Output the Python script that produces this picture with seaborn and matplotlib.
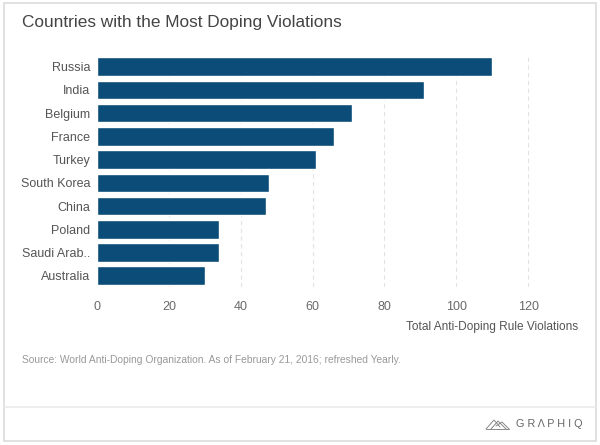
import matplotlib
matplotlib.use('Agg')
import matplotlib.pyplot as plt
import seaborn as sns
import pandas as pd
from matplotlib.patches import Rectangle
from matplotlib.lines import Line2D

countries = ['Russia', 'India', 'Belgium', 'France', 'Turkey', 'South Korea',
             'China', 'Poland', 'Saudi Arab..', 'Australia']
violations = [110, 91, 71, 66, 61, 48, 47, 34, 34, 30]
x_ticks = [0, 20, 40, 60, 80, 100, 120]

BAR = '#0b4d78'
GRID = '#e3e3e3'
TEXT = '#555555'

df = pd.DataFrame({'country': countries, 'violations': violations})

sns.set_style('white')
plt.rcParams['font.family'] = ['Liberation Sans', 'DejaVu Sans']

fig = plt.figure(figsize=(6, 4.45), dpi=100)
fig.patch.set_facecolor('white')

# card frame + footer separator
fig.patches.append(Rectangle((0.006, 0.008), 0.988, 0.986, transform=fig.transFigure,
                             fill=False, edgecolor='#dcdcdc', lw=1.2))
fig.lines.append(Line2D([0.006, 0.994], [1 - 407 / 445] * 2, transform=fig.transFigure,
                        color='#ebebeb', lw=1.2))

ax = fig.add_axes([97 / 600, 1 - 287.3 / 445, 485 / 600, (287.3 - 55.1) / 445])
sns.barplot(data=df, x='violations', y='country', color=BAR, saturation=1,
            width=0.8, ax=ax, zorder=3)

ax.set_xlim(0, 135)
ax.set_xticks(x_ticks)
ax.set_xticklabels([str(t) for t in x_ticks])
for t in x_ticks[1:]:
    ax.axvline(t, color=GRID, lw=0.8, ls=(0, (4, 3)), zorder=1)
sns.despine(ax=ax, left=True, bottom=True)
ax.tick_params(axis='both', length=0, labelsize=9)
ax.tick_params(axis='x', pad=10, labelcolor='#6a6a6a')
ax.tick_params(axis='y', pad=5, labelcolor=TEXT)
ax.set_ylabel('')
ax.set_xlabel('')

fig.text(22 / 600, 1 - 22 / 445, 'Countries with the Most Doping Violations',
         fontsize=12.4, color='#444444', va='center', ha='left')
fig.text(578 / 600, 1 - 327 / 445, 'Total Anti-Doping Rule Violations',
         fontsize=8.6, color=TEXT, va='center', ha='right')
fig.text(22 / 600, 1 - 360 / 445,
         'Source: World Anti-Doping Organization. As of February 21, 2016; refreshed Yearly.',
         fontsize=7.4, color='#999999', va='center', ha='left')

# footer logo
fig.text(582 / 600, 1 - 424 / 445, 'G R Λ P H I Q', fontsize=7.8, color='#666666',
         va='center', ha='right')
lx, ly = 486 / 600, 1 - 429 / 445
sx, sy = 1 / 600, 1 / 445
for pts in [[(0, 0), (8, 9), (14, 2)], [(5, 0), (12, 8), (20, 0)], [(10, 3), (16, 7), (23, 0)],
            [(0, 0), (23, 0)]]:
    fig.lines.append(Line2D([lx + p[0] * sx for p in pts], [ly + p[1] * sy for p in pts],
                            transform=fig.transFigure, color='#888888', lw=0.7))

fig.savefig('out.png', dpi=100, facecolor='white')
